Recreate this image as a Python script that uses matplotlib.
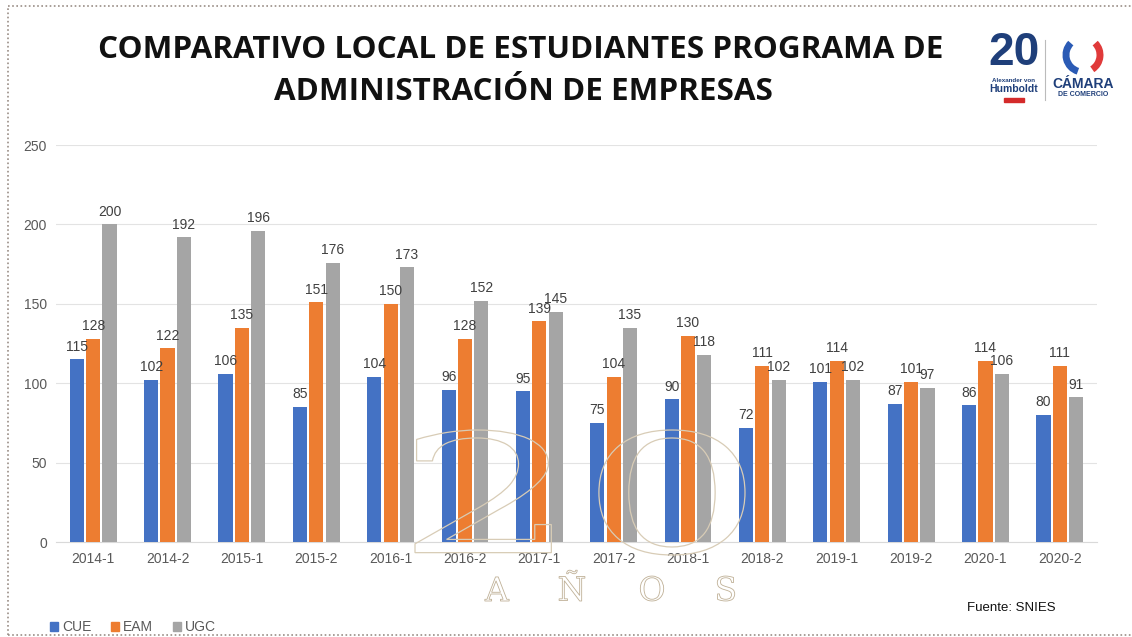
import matplotlib.pyplot as plt
import numpy as np
from matplotlib.patches import PathPatch, Rectangle, Arc
from matplotlib.textpath import TextPath
from matplotlib.font_manager import FontProperties
from matplotlib.transforms import Affine2D
from matplotlib.lines import Line2D

periods = ["2014-1", "2014-2", "2015-1", "2015-2", "2016-1", "2016-2", "2017-1",
           "2017-2", "2018-1", "2018-2", "2019-1", "2019-2", "2020-1", "2020-2"]
cue = [115, 102, 106, 85, 104, 96, 95, 75, 90, 72, 101, 87, 86, 80]
eam = [128, 122, 135, 151, 150, 128, 139, 104, 130, 111, 114, 101, 114, 111]
ugc = [200, 192, 196, 176, 173, 152, 145, 135, 118, 102, 102, 97, 106, 91]
series = [("CUE", cue, "#4472C4"), ("EAM", eam, "#ED7D31"), ("UGC", ugc, "#A5A5A5")]

W, H = 1132, 637
plt.rcParams['font.family'] = ['Liberation Sans', 'DejaVu Sans']

fig = plt.figure(figsize=(W / 100, H / 100), dpi=100)
fig.patch.set_facecolor('white')


def fx(px):
    return px / W


def fy(py):
    return 1 - py / H


# faint "20 AÑOS" watermark behind the chart
wm = "#D8CCB6"
fp_serif = FontProperties(family="DejaVu Serif")
tp = TextPath((0, 0), "20", prop=fp_serif, size=100)
ext = tp.get_extents()
tr = (Affine2D().translate(-ext.x0, -ext.y0)
      .scale(330 / ext.width, 125 / ext.height)
      .translate(415, H - 555))
fig.patches.append(PathPatch(tr.transform_path(tp), facecolor='none', edgecolor=wm,
                             lw=0.9, transform=None, zorder=0))
for ch, xc in zip("AÑOS", [497, 572, 652, 726]):
    tp = TextPath((0, 0), ch, prop=FontProperties(family="DejaVu Serif"), size=100)
    e = tp.get_extents()
    t = (Affine2D().translate(-(e.x0 + e.width / 2), -e.y0)
         .scale(0.33).translate(xc, H - 601))
    fig.patches.append(PathPatch(t.transform_path(tp), facecolor='none', edgecolor='#BFB096',
                                 lw=0.6, transform=None, zorder=0))

ax = fig.add_axes([fx(56), fy(542), fx(1097) - fx(56), fy(145) - fy(542)])
ax.patch.set_alpha(0)

x = np.arange(len(periods))
width = 0.19
step = 0.22
for i, (name, vals, col) in enumerate(series):
    pos = x + (i - 1) * step
    ax.bar(pos, vals, width, color=col, label=name, zorder=3)
    for p, v in zip(pos, vals):
        ax.text(p, v + 3.5, str(v), ha='center', va='bottom', fontsize=10,
                color='#404040', zorder=4)

ax.set_ylim(0, 250)
ax.set_xlim(-0.5, len(periods) - 0.5)
ax.set_yticks(range(0, 251, 50))
ax.set_xticks(x)
ax.set_xticklabels(periods)
ax.tick_params(axis='both', length=0, labelsize=10, labelcolor='#595959')
ax.tick_params(axis='x', pad=7)
ax.tick_params(axis='y', pad=6.5)
ax.grid(axis='y', color='#E3E3E3', lw=0.8, zorder=0)
for s in ['top', 'right', 'left']:
    ax.spines[s].set_visible(False)
ax.spines['bottom'].set_color('#D9D9D9')

# title
fig.text(fx(521), fy(50), "COMPARATIVO LOCAL DE ESTUDIANTES PROGRAMA DE",
         ha='center', va='center', fontsize=22.6, fontweight='bold',
         family='Open Sans', color='#111111')
fig.text(fx(523), fy(92), "ADMINISTRACIÓN DE EMPRESAS",
         ha='center', va='center', fontsize=22.6, fontweight='bold',
         family='Open Sans', color='#111111')

# legend
handles = [Rectangle((0, 0), 1, 1, color=c) for _, _, c in series]
fig.legend(handles, [n for n, _, _ in series], loc='center left',
           bbox_to_anchor=(fx(44), fy(627)), ncol=3, frameon=False,
           fontsize=10, labelcolor='#595959', handlelength=0.6, handleheight=0.6,
           handletextpad=0.3, columnspacing=1.4, borderaxespad=0)

fig.text(fx(967), fy(608), "Fuente: SNIES", ha='left', va='center',
         fontsize=9.5, color='#111111')

# logos (approximation)
navy = "#1F3F7A"
fig.text(fx(1014), fy(53), "20", ha='center', va='center', fontsize=33,
         fontweight='bold', color=navy, family='Liberation Sans')
fig.text(fx(1014), fy(81), "Alexander von", ha='center', va='center',
         fontsize=4.5, fontweight='bold', color=navy)
fig.text(fx(1014), fy(89), "Humboldt", ha='center', va='center',
         fontsize=7.5, fontweight='bold', color=navy)
fig.patches.append(Rectangle((fx(1004), fy(102)), fx(20), fy(98) - fy(102),
                             transform=fig.transFigure, color='#D42A2A'))
fig.lines.append(Line2D([fx(1045), fx(1045)], [fy(40), fy(100)],
                        transform=fig.transFigure, color='#BBBBBB', lw=0.8))
fig.patches.append(Arc((fx(1083), fy(55)), fx(34), fy(0) - fy(34), theta1=120,
                       theta2=260, transform=fig.transFigure, color='#2B5BB5', lw=5))
fig.patches.append(Arc((fx(1083), fy(55)), fx(34), fy(0) - fy(34), theta1=290,
                       theta2=420, transform=fig.transFigure, color='#E03A3A', lw=5))
fig.text(fx(1083), fy(84), "CÁMARA", ha='center', va='center', fontsize=10,
         fontweight='bold', color=navy)
fig.text(fx(1083), fy(95), "DE COMERCIO", ha='center', va='center', fontsize=5,
         fontweight='bold', color=navy)

# dotted frame
fr = '#9A8E86'
fig.lines.append(Line2D([fx(8), fx(8)], [fy(635), fy(6)], transform=fig.transFigure,
                        color=fr, lw=1.2, ls=(0, (1, 1.5))))
fig.lines.append(Line2D([fx(8), fx(1132)], [fy(6), fy(6)], transform=fig.transFigure,
                        color=fr, lw=1.2, ls=(0, (1, 1.5))))
fig.lines.append(Line2D([fx(8), fx(1132)], [fy(635), fy(635)], transform=fig.transFigure,
                        color=fr, lw=1.2, ls=(0, (1, 1.5))))

fig.savefig("out.png", dpi=100, facecolor='white')
